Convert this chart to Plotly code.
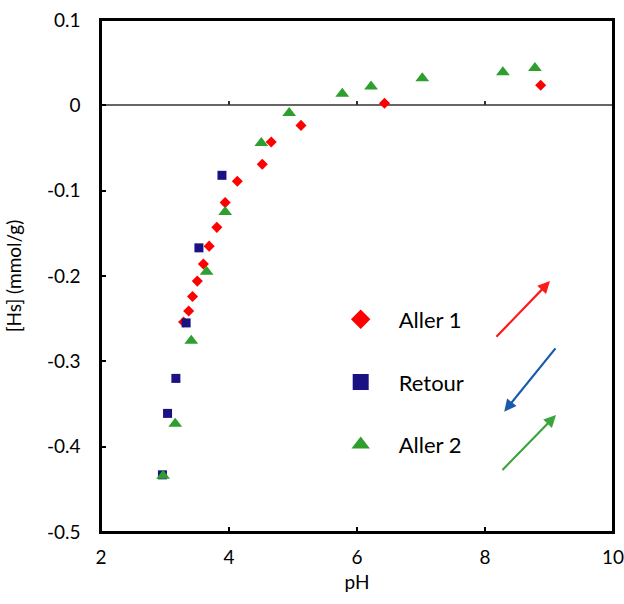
import plotly.graph_objects as go

# ---- data ----
aller1_ph = [3.29, 3.37, 3.43, 3.505, 3.60, 3.69, 3.81, 3.94, 4.13, 4.52, 4.66, 5.125, 6.43, 8.87]
aller1_hs = [-0.254, -0.241, -0.224, -0.206, -0.186, -0.165, -0.143, -0.114, -0.089, -0.069, -0.043, -0.0235, 0.0025, 0.0235]

retour_ph = [2.96, 3.04, 3.17, 3.33, 3.53, 3.89]
retour_hs = [-0.433, -0.361, -0.320, -0.255, -0.167, -0.082]

aller2_ph = [2.97, 3.16, 3.41, 3.65, 3.94, 4.505, 4.94, 5.77, 6.22, 7.02, 8.28, 8.78]
aller2_hs = [-0.434, -0.373, -0.276, -0.195, -0.125, -0.044, -0.009, 0.0136, 0.022, 0.0317, 0.0387, 0.0437]

series_names = ["Aller 1", "Retour", "Aller 2"]

x_ticks = [2, 4, 6, 8, 10]
y_ticks = [0.1, 0, -0.1, -0.2, -0.3, -0.4, -0.5]
y_ticklabels = ["0.1", "0", "-0.1", "-0.2", "-0.3", "-0.4", "-0.5"]

# direction arrows: (tail_x, tail_y, head_x, head_y, colour)
arrows = [
    (8.156, -0.273, 9.016, -0.206, "#ff1a1a"),
    (9.12, -0.283, 8.30, -0.359, "#1a5aaa"),
    (8.25, -0.429, 9.11, -0.363, "#3aa53a"),
]

RED = "#ff0000"
NAVY = "#1a1282"
GREEN = "#2e9e2e"
FONT = "Lato"
PAD = "\u00a0\u00a0\u00a0"  # gap between y tick labels and the axis

fig = go.Figure()

# data traces (not in legend)
fig.add_trace(go.Scatter(x=aller1_ph, y=aller1_hs, mode="markers", showlegend=False,
                         marker=dict(symbol="diamond", size=8.5, color=RED)))
fig.add_trace(go.Scatter(x=retour_ph, y=retour_hs, mode="markers", showlegend=False,
                         marker=dict(symbol="square", size=9, color=NAVY)))
fig.add_trace(go.Scatter(x=aller2_ph, y=aller2_hs, mode="markers", showlegend=False,
                         marker=dict(symbol="triangle-up", size=12, color=GREEN)))

# legend-only entries (larger symbols, as in the reference key)
for name, sym, col, sz in zip(series_names, ["diamond", "square", "triangle-up"],
                              [RED, NAVY, GREEN], [15, 16, 16]):
    fig.add_trace(go.Scatter(x=[None], y=[None], mode="markers", name=name,
                             legendgroup=name, xaxis="x2",
                             marker=dict(symbol=sym, size=sz, color=col)))
# invisible helper trace so the inside-tick overlay axis is drawn
fig.add_trace(go.Scatter(x=[None], y=[None], mode="markers", showlegend=False, xaxis="x3"))

for tx, ty, hx, hy, col in arrows:
    fig.add_annotation(x=hx, y=hy, ax=tx, ay=ty, xref="x", yref="y", axref="x", ayref="y",
                       text="", showarrow=True, arrowhead=2, arrowsize=1.1, arrowwidth=2.2,
                       arrowcolor=col, standoff=0)

# plot frame
fig.add_shape(type="rect", xref="x domain", yref="y domain", x0=0, x1=1, y0=0, y1=1,
              line=dict(color="black", width=2), fillcolor="rgba(0,0,0,0)", layer="above")

fig.update_layout(
    width=624, height=604,
    margin=dict(l=101, r=11, t=20, b=72, autoexpand=False),
    paper_bgcolor="white", plot_bgcolor="white",
    font=dict(family=FONT, size=19, color="black"),
    showlegend=True,
    legend=dict(x=0.433, y=0.456, xanchor="left", yanchor="top",
                bgcolor="rgba(0,0,0,0)", font=dict(size=22, family=FONT),
                itemwidth=66, tracegroupgap=31, traceorder="grouped"),
    # main x axis: labels (invisible outside ticks push the labels down)
    xaxis=dict(range=[2, 10], tickvals=x_ticks, ticks="outside", ticklen=7,
               tickcolor="rgba(0,0,0,0)", showline=True, linewidth=2, linecolor="black",
               mirror=True, showgrid=False, zeroline=False, tickfont=dict(size=19),
               automargin=False, ticklabeloverflow="allow",
               title=dict(text="pH", font=dict(size=19), standoff=9)),
    # zero-line ticks
    xaxis2=dict(range=[2, 10], overlaying="x", anchor="free", position=5/6,
                tickvals=[4, 6, 8], ticks="inside", ticklen=4, tickwidth=1.5, tickcolor="#333",
                showticklabels=False, showline=False, showgrid=False, zeroline=False,
                automargin=False),
    # inside ticks on the bottom axis
    xaxis3=dict(range=[2, 10], overlaying="x", anchor="y", side="bottom",
                tickvals=x_ticks, ticks="inside", ticklen=5, tickwidth=1.5, tickcolor="black",
                showticklabels=False, showline=False, showgrid=False, zeroline=False,
                automargin=False),
    yaxis=dict(range=[-0.5, 0.1], tickvals=y_ticks,
               ticktext=[t + PAD for t in y_ticklabels],
               ticks="inside", ticklen=5, tickwidth=1.5, tickcolor="black",
               showline=True, linewidth=2, linecolor="black", mirror=True,
               showgrid=False, zeroline=True, zerolinecolor="#666666", zerolinewidth=1.5,
               tickfont=dict(size=19), automargin=False, ticklabeloverflow="allow",
               title=dict(text="[Hs] (mmol/g)", font=dict(size=19), standoff=20)),
)

# remove the page's default body margin so the 624x604 figure fills the window exactly
fig.write_html("out.html",
               config={"displayModeBar": False},
               post_script="document.body.style.margin='0px';"
                           "document.body.style.overflow='hidden';")
